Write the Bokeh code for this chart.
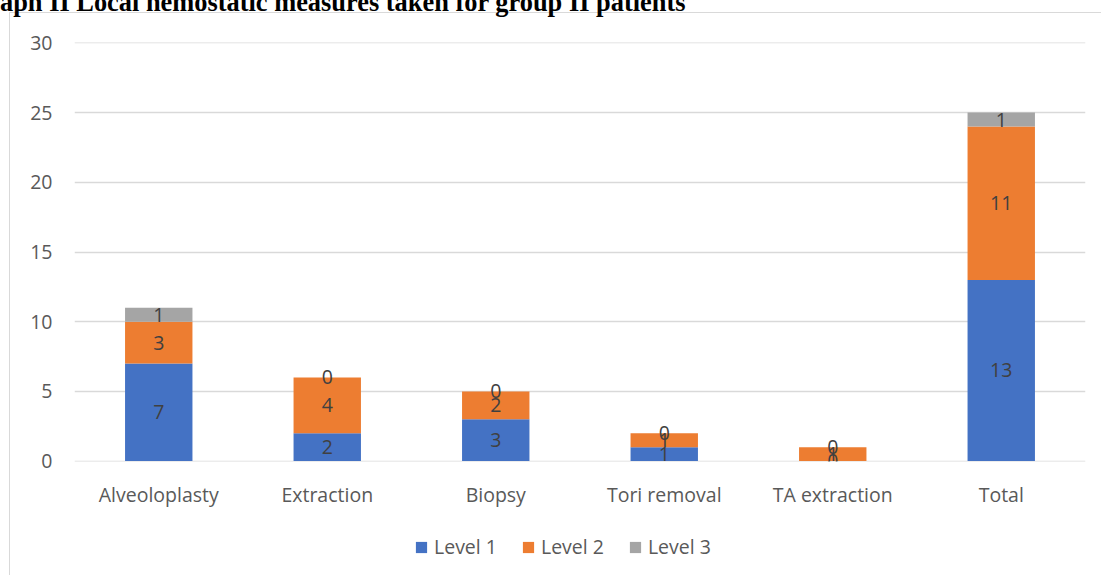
from bokeh.plotting import figure
from bokeh.models import ColumnDataSource, Legend, LegendItem, Div, Range1d
from bokeh.layouts import column
from bokeh.embed import file_html
from bokeh.resources import INLINE
from bokeh.core.properties import value

categories = ["Alveoloplasty", "Extraction", "Biopsy", "Tori removal", "TA extraction", "Total"]
level1 = [7, 2, 3, 1, 0, 13]
level2 = [3, 4, 2, 1, 1, 11]
level3 = [1, 0, 0, 0, 0, 1]
series_names = ["Level 1", "Level 2", "Level 3"]
colors = ["#4472C4", "#ED7D31", "#A5A5A5"]
y_ticks = [0, 5, 10, 15, 20, 25, 30]
title_text = "aph II Local hemostatic measures taken for group II patients"

FONT = "Open Sans"
FS = "19.5px"
TXT = "#595959"

src = ColumnDataSource(dict(cat=categories, l1=level1, l2=level2, l3=level3))

p = figure(x_range=categories, y_range=(-0.03, 30.03), width=1101, height=505,
           output_backend="svg", toolbar_location=None,
           min_border_left=74, min_border_right=16, min_border_top=30, min_border_bottom=56,
           margin=(0, 0, 0, 0))
p.outline_line_color = None
p.border_fill_color = None
p.background_fill_color = None

rs = p.vbar_stack(["l1", "l2", "l3"], x="cat", width=0.4, color=colors, source=src,
                  line_color=None)

# data labels (centred in each segment, computed from the data)
lab_x, lab_y, lab_t = [], [], []
for i, c in enumerate(categories):
    base = 0
    for vals in (level1, level2, level3):
        v = vals[i]
        lab_x.append(c)
        lab_y.append(base + v / 2)
        lab_t.append(str(v))
        base += v
lsrc = ColumnDataSource(dict(x=lab_x, y=lab_y, t=lab_t))
p.text(x="x", y="y", text="t", source=lsrc, text_align="center", text_baseline="middle",
       text_font=value(FONT), text_font_size=FS, text_color="#404040")

# axes
p.yaxis.ticker = y_ticks
p.yaxis.axis_line_color = None
p.yaxis.major_tick_line_color = None
p.yaxis.minor_tick_line_color = None
p.yaxis.major_label_text_font = FONT
p.yaxis.major_label_text_font_size = FS
p.yaxis.major_label_text_color = TXT
p.yaxis.major_label_standoff = 16

p.xaxis.axis_line_color = None
p.xaxis.major_tick_line_color = None
p.xaxis.major_label_text_font = FONT
p.xaxis.major_label_text_font_size = FS
p.xaxis.major_label_text_color = TXT
p.xaxis.major_label_standoff = 13

p.xgrid.grid_line_color = None
p.ygrid.grid_line_color = "#d9d9d9"
p.ygrid.grid_line_width = 1.4

# legend strip (its own small figure; swatches from off-range glyphs of the same colours)
pl = figure(width=1101, height=58, output_backend="svg", toolbar_location=None,
            x_range=Range1d(0, 1), y_range=Range1d(0, 1),
            x_axis_location=None, y_axis_location=None,
            min_border_left=0, min_border_right=0, min_border_top=0, min_border_bottom=0,
            margin=(0, 0, 0, 0))
pl.outline_line_color = None
pl.border_fill_color = None
pl.background_fill_color = None
pl.grid.visible = False
swatches = [pl.vbar(x=[-10], top=[-10], width=1, color=c, line_color=None) for c in colors]
legend = Legend(items=[LegendItem(label=n, renderers=[r]) for n, r in zip(series_names, swatches)],
                orientation="horizontal", location=(340, 15),
                label_text_font=FONT, label_text_font_size=FS, label_text_color=TXT,
                glyph_width=14, glyph_height=14, spacing=24, label_standoff=6,
                padding=0, margin=0,
                border_line_color=None, background_fill_alpha=0)
pl.add_layout(legend, "center")

html = (
    '<div style="position:relative;width:1101px;height:12px;">'
    '<div style="position:absolute;left:9px;top:12px;width:1300px;height:800px;'
    'border-left:1.5px solid #d9d9d9;border-top:1.5px solid #d9d9d9;box-sizing:border-box;"></div>'
    '<div style="position:absolute;left:0px;top:-11px;font-family:\'Liberation Serif\';'
    'font-weight:bold;font-size:26.4px;line-height:26px;white-space:nowrap;color:#000;">'
    + title_text + '</div></div>'
)
header = Div(text=html, width=1101, height=12, margin=(0, 0, 0, 0),
             styles={"overflow": "visible"})

root = column(header, p, pl, spacing=0)
open("out.html", "w").write(file_html(root, INLINE))
